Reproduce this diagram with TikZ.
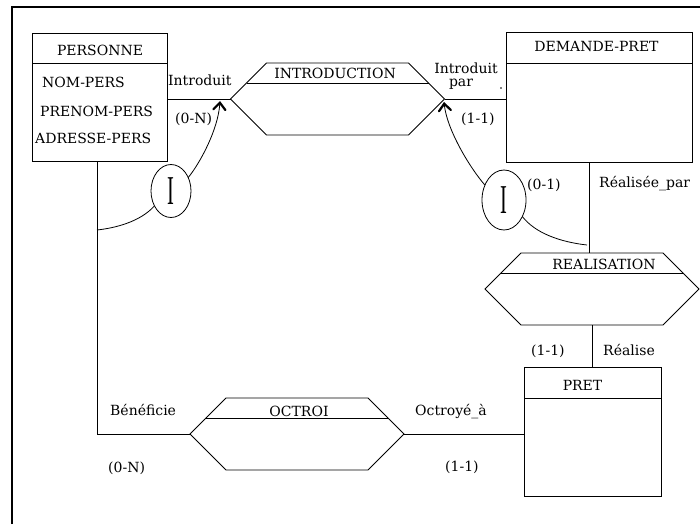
\documentclass[tikz,border=0pt]{standalone}
\usepackage{fontspec}
\usepackage{graphicx}
\setmainfont{DejaVu Serif}
\newfontfamily\bigIfont{Liberation Serif}
\usetikzlibrary{shapes.geometric,arrows.meta}
\newcommand\bigI{{\bigIfont\fontsize{41}{41}\selectfont\scalebox{0.5}[1]{I}}}
\tikzset{
  relhex/.pic={
    \coordinate (-L) at (-107,0);
    \coordinate (-R) at (107,0);
    \coordinate (-T) at (0,-36);
    \coordinate (-B) at (0,36);
    \draw[line] (-107,0) -- (-71,-36) -- (71,-36) -- (107,0) -- (71,36) -- (-71,36) -- cycle;
    \draw[line] (-91,-16) -- (91,-16);
  }
}
\begin{document}
\begin{tikzpicture}[x=1pt,y=-1pt,
  line/.style={line width=0.8pt},
  entity/.style={draw,line width=0.8pt,rectangle,inner sep=0pt,outer sep=0pt},
  lbl/.style={inner sep=0pt,font=\fontsize{14}{16}\selectfont},
  iell/.style={draw,ellipse,line width=0.8pt,inner sep=0pt,outer sep=0pt},
  arr/.style={line width=0.8pt,-{Straight Barb[length=7pt,width=12pt,line width=2.2pt,line cap=round]}},
]
\useasboundingbox (0,0) rectangle (700,524);
\fill[white] (0,0) rectangle (700,524);

% frame
\draw[line width=1.2pt] (12,524) -- (12,7) -- (700,7);

% entities
\node[entity,minimum width=135pt,minimum height=128pt] (pers) at (99.5,97) {};
\draw[line] ([yshift=-30pt]pers.north west) -- ([yshift=-30pt]pers.north east);
\node[lbl,anchor=base] (persT) at (100,56) {PERSONNE};
\node[lbl,anchor=base west] (at1) at (42,88) {NOM-PERS};
\node[lbl,anchor=base west] (at2) at (40,117) {PRENOM-PERS};
\node[lbl,anchor=base west] (at3) at (35,143) {ADRESSE-PERS};

\node[entity,minimum width=186pt,minimum height=130pt] (dem) at (599,97) {};
\draw[line] ([yshift=-31pt]dem.north west) -- ([yshift=-31pt]dem.north east);
\node[lbl,anchor=base] (demT) at (596.5,52) {DEMANDE-PRET};

\node[entity,minimum width=137pt,minimum height=129pt] (pret) at (592.5,431.5) {};
\draw[line] ([yshift=-31pt]pret.north west) -- ([yshift=-31pt]pret.north east);
\node[lbl,anchor=base] (pretT) at (582.5,390) {PRET};

% relations
\pic (intro) at (337.5,99) {relhex};
\node[lbl,anchor=base] (introT) at (335,79) {INTRODUCTION};
\pic (real) at (592,289) {relhex};
\node[lbl,anchor=base] (realT) at (604,269) {REALISATION};
\pic (oct) at (297,434) {relhex};
\node[lbl,anchor=base] (octT) at (299,416) {OCTROI};

% connectors
\draw[line] (pers.east |- intro-L) -- (intro-L);
\draw[line] (intro-R) -- (intro-R -| dem.west);
\coordinate (vx1) at (589,0);
\draw[line] (vx1 |- dem.south) -- (vx1 |- real-T);
\draw[line] (real-B) -- (real-B |- pret.north);
\coordinate (vx2) at (97,0);
\draw[line] (vx2 |- pers.south) -- (vx2 |- oct-L) -- (oct-L);
\draw[line] (oct-R) -- (oct-R -| pret.west);

% identifier ellipses
\node[iell,minimum width=40pt,minimum height=53pt] (i1) at (171,191) {\bigI};
\node[iell,minimum width=44pt,minimum height=60pt] (i2) at (504,200) {\bigI};
\coordinate (tip1) at (220,101);
\coordinate (j1) at (97,230);
\coordinate (tip2) at (444,102);
\coordinate (j2) at (587,245);
\draw[arr] (i1.38) .. controls (200,163) and (218,130) .. (tip1);
\draw[line] (i1.222) .. controls (140,222) and (115,228) .. (j1);
\draw[arr] (i2.142) .. controls (470,168) and (447,130) .. (tip2);
\draw[line] (i2.-42) .. controls (535,233) and (560,242) .. (j2);

% role labels and cardinalities
\node[lbl,anchor=base west] (r1) at (168,85) {Introduit};
\node[lbl,anchor=base west] (c1) at (175,123) {(0-N)};
\node[lbl,anchor=base] (r2) at (466,74) {Introduit};
\node[lbl,anchor=base] (r2b) at (461,87) {par};
\fill (501,88) circle (0.9pt);
\node[lbl,anchor=base west] (c2) at (461,123) {(1-1)};
\node[lbl,anchor=base west] (c3) at (527,189) {(0-1)};
\node[lbl,anchor=base west] (r3) at (599,187) {Réalisée\_par};
\node[lbl,anchor=base west] (c4) at (531,355) {(1-1)};
\node[lbl,anchor=base west] (r4) at (603,355) {Réalise};
\node[lbl,anchor=base west] (r5) at (110,415) {Bénéficie};
\node[lbl,anchor=base west] (r6) at (415,415) {Octroyé\_à};
\node[lbl,anchor=base west] (c5) at (108,472) {(0-N)};
\node[lbl,anchor=base west] (c6) at (445,471) {(1-1)};
\end{tikzpicture}
\end{document}
